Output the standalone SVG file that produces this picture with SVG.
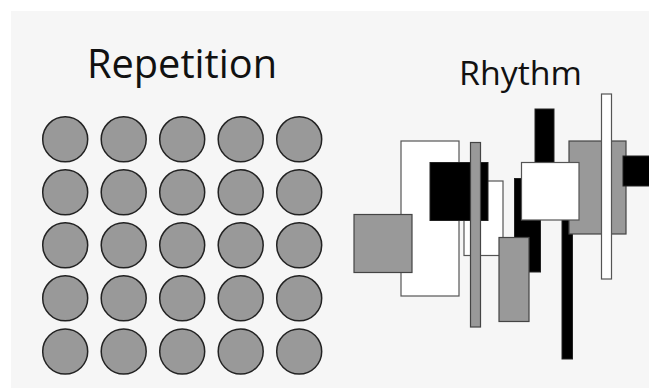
<svg xmlns="http://www.w3.org/2000/svg" width="649" height="388" viewBox="0 0 649 388">
<style>
.t{font-family:"Open Sans","Noto Sans",sans-serif;fill:#111}
.c{fill:#999;stroke:#222;stroke-width:1.5}
.g{fill:#999;stroke:#444;stroke-width:1.2}
.w{fill:#fff;stroke:#555;stroke-width:1.2}
.b{fill:#000;stroke:#222;stroke-width:1}
</style>
<rect x="0" y="0" width="649" height="388" fill="#fff"/>
<rect x="11" y="11" width="638" height="377" fill="#f6f6f6"/>
<g id="titles">
<text class="t" x="87" y="78" font-size="40" textLength="190" lengthAdjust="spacingAndGlyphs">Repetition</text>
<text class="t" x="459" y="85" font-size="32" textLength="123" lengthAdjust="spacingAndGlyphs">Rhythm</text>
</g>
<g id="repetition">
<circle class="c" cx="65.2" cy="139.3" r="22.5"/><circle class="c" cx="123.7" cy="139.3" r="22.5"/><circle class="c" cx="182.2" cy="139.3" r="22.5"/><circle class="c" cx="240.7" cy="139.3" r="22.5"/><circle class="c" cx="299.2" cy="139.3" r="22.5"/>
<circle class="c" cx="65.2" cy="192.3" r="22.5"/><circle class="c" cx="123.7" cy="192.3" r="22.5"/><circle class="c" cx="182.2" cy="192.3" r="22.5"/><circle class="c" cx="240.7" cy="192.3" r="22.5"/><circle class="c" cx="299.2" cy="192.3" r="22.5"/>
<circle class="c" cx="65.2" cy="245.3" r="22.5"/><circle class="c" cx="123.7" cy="245.3" r="22.5"/><circle class="c" cx="182.2" cy="245.3" r="22.5"/><circle class="c" cx="240.7" cy="245.3" r="22.5"/><circle class="c" cx="299.2" cy="245.3" r="22.5"/>
<circle class="c" cx="65.2" cy="298.3" r="22.5"/><circle class="c" cx="123.7" cy="298.3" r="22.5"/><circle class="c" cx="182.2" cy="298.3" r="22.5"/><circle class="c" cx="240.7" cy="298.3" r="22.5"/><circle class="c" cx="299.2" cy="298.3" r="22.5"/>
<circle class="c" cx="65.2" cy="351.5" r="22.5"/><circle class="c" cx="123.7" cy="351.5" r="22.5"/><circle class="c" cx="182.2" cy="351.5" r="22.5"/><circle class="c" cx="240.7" cy="351.5" r="22.5"/><circle class="c" cx="299.2" cy="351.5" r="22.5"/>
</g>
<g id="rhythm">
<rect class="w" x="401" y="141" width="58" height="155"/>
<rect class="g" x="354" y="214.5" width="58" height="58"/>
<rect class="w" x="464" y="181" width="39" height="74.5"/>
<rect class="b" x="430" y="162.5" width="58" height="58"/>
<rect class="g" x="470.5" y="142.5" width="10" height="184.5"/>
<rect class="b" x="514.5" y="178.5" width="26" height="93.5"/>
<rect class="g" x="499" y="237.5" width="30" height="84"/>
<rect class="b" x="535" y="109" width="19" height="80"/>
<rect class="b" x="562" y="200" width="10.5" height="159"/>
<rect class="g" x="569" y="141" width="57" height="93"/>
<rect class="w" x="521.5" y="162.5" width="57.5" height="57.5"/>
<rect class="w" x="601.5" y="94" width="10" height="185"/>
<rect class="b" x="623" y="156" width="30" height="30"/>
</g>
</svg>
